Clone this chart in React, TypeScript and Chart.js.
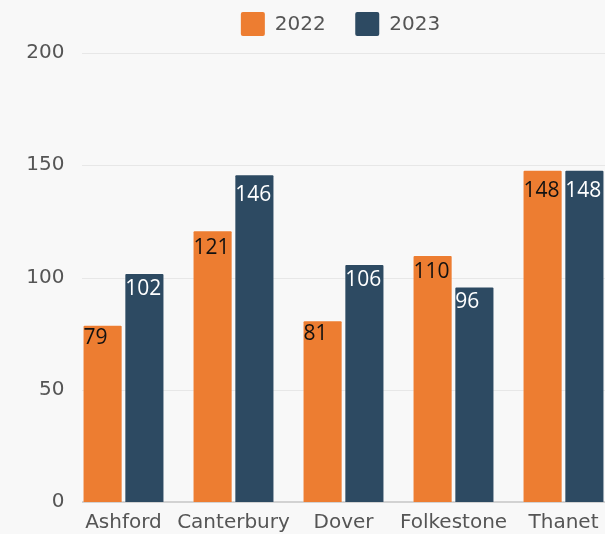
import React, { useEffect, useRef } from "react";
import { Chart, registerables } from "chart.js";

Chart.register(...registerables);

const categories = ["Ashford", "Canterbury", "Dover", "Folkestone", "Thanet"];
const series2022 = [79, 121, 81, 110, 148];
const series2023 = [102, 146, 106, 96, 148];
const seriesNames = ["2022", "2023"];
const yTicks = [0, 50, 100, 150, 200];

const ORANGE = "#ED7D31";
const NAVY = "#2D4A62";
const BG = "#f8f8f8";
const AXIS_FONT = "'DejaVu Sans', sans-serif";
const LABEL_FONT = "'Open Sans', sans-serif";
const TEXT_COLOR = "#555555";

const gridPlugin = {
  id: "customGrid",
  beforeDatasetsDraw(chart: any) {
    const { ctx, chartArea, scales } = chart;
    ctx.save();
    yTicks.forEach((v) => {
      const y = Math.round(scales.y.getPixelForValue(v));
      ctx.beginPath();
      if (v === 0) {
        ctx.strokeStyle = "#d2d2d2";
        ctx.lineWidth = 2;
      } else {
        ctx.strokeStyle = "#e7e7e7";
        ctx.lineWidth = 1;
      }
      const off = ctx.lineWidth === 1 ? 0.5 : 0;
      ctx.moveTo(chartArea.left + 13.5, y + off);
      ctx.lineTo(chart.width, y + off);
      ctx.stroke();
    });
    ctx.restore();
  },
};

const valueLabelPlugin = {
  id: "valueLabels",
  afterDatasetsDraw(chart: any) {
    const { ctx } = chart;
    ctx.save();
    ctx.font = `21px ${LABEL_FONT}`;
    ctx.textAlign = "left";
    ctx.textBaseline = "alphabetic";
    chart.data.datasets.forEach((ds: any, di: number) => {
      const meta = chart.getDatasetMeta(di);
      ctx.fillStyle = di === 0 ? "#111111" : "#ffffff";
      meta.data.forEach((el: any, i: number) => {
        const v = ds.data[i];
        const { x, y, width } = el.getProps(["x", "y", "width"], true);
        const left = x - width / 2 + 1;
        const drift = 0.11 * v - 5;
        ctx.fillText(String(v), left, y + drift + 15.5);
      });
    });
    ctx.restore();
  },
};

const legendPlugin = {
  id: "customLegend",
  afterDraw(chart: any) {
    const { ctx, chartArea } = chart;
    ctx.save();
    ctx.font = `20px ${AXIS_FONT}`;
    const box = 24;
    const gap = 10;
    const spacing = 29.5;
    const items = chart.data.datasets.map((ds: any) => ({
      text: ds.label,
      color: ds.backgroundColor,
      w: ctx.measureText(ds.label).width,
    }));
    const total =
      items.reduce((s: number, it: any) => s + box + gap + it.w, 0) +
      spacing * (items.length - 1);
    let x = (chartArea.left + chartArea.right) / 2 - total / 2 - 3;
    const top = 12;
    items.forEach((it: any) => {
      ctx.fillStyle = it.color;
      ctx.beginPath();
      (ctx as any).roundRect(x, top, box, box, 2);
      ctx.fill();
      ctx.fillStyle = TEXT_COLOR;
      ctx.textBaseline = "alphabetic";
      ctx.textAlign = "left";
      ctx.fillText(it.text, x + box + gap, 29.5);
      x += box + gap + it.w + spacing;
    });
    ctx.restore();
  },
};

export default function App() {
  const canvasRef = useRef<HTMLCanvasElement | null>(null);

  useEffect(() => {
    document.body.style.margin = "0";
    document.body.style.background = BG;
    document.body.style.overflow = "hidden";
    const canvas = canvasRef.current;
    if (!canvas) return;
    const chart = new Chart(canvas, {
      type: "bar",
      data: {
        labels: categories,
        datasets: [
          {
            label: seriesNames[0],
            data: series2022,
            backgroundColor: ORANGE,
            borderColor: "rgba(255,255,255,0.35)",
            borderWidth: 1,
            borderRadius: 2,
            borderSkipped: "bottom",
          },
          {
            label: seriesNames[1],
            data: series2023,
            backgroundColor: NAVY,
            borderColor: "rgba(255,255,255,0.35)",
            borderWidth: 1,
            borderRadius: 2,
            borderSkipped: "bottom",
          },
        ],
      },
      options: {
        responsive: false,
        animation: false,
        layout: { padding: { top: 53, right: 21.5, left: 0, bottom: 0 } },
        datasets: { bar: { categoryPercentage: 0.76, barPercentage: 0.96 } },
        plugins: {
          legend: { display: false },
          tooltip: { enabled: false },
        },
        scales: {
          x: {
            grid: { display: false, drawTicks: false },
            border: { display: false },
            ticks: {
              font: { family: AXIS_FONT, size: 20 },
              color: TEXT_COLOR,
              padding: 9,
              maxRotation: 0,
              minRotation: 0,
              autoSkip: false,
            },
            afterFit: (s: any) => {
              s.height = 32;
            },
          },
          y: {
            min: 0,
            max: 200,
            grid: { display: false, drawTicks: false },
            border: { display: false },
            ticks: {
              stepSize: 50,
              font: { family: AXIS_FONT, size: 20 },
              color: TEXT_COLOR,
              padding: 4,
            },
            afterFit: (s: any) => {
              s.width = 68.5;
            },
          },
        },
      } as any,
      plugins: [gridPlugin, valueLabelPlugin, legendPlugin],
    });
    return () => chart.destroy();
  }, []);

  return (
    <div style={{ width: 605, height: 534, overflow: "hidden", background: BG }}>
      <canvas ref={canvasRef} width={640} height={534} style={{ display: "block" }} />
    </div>
  );
}
